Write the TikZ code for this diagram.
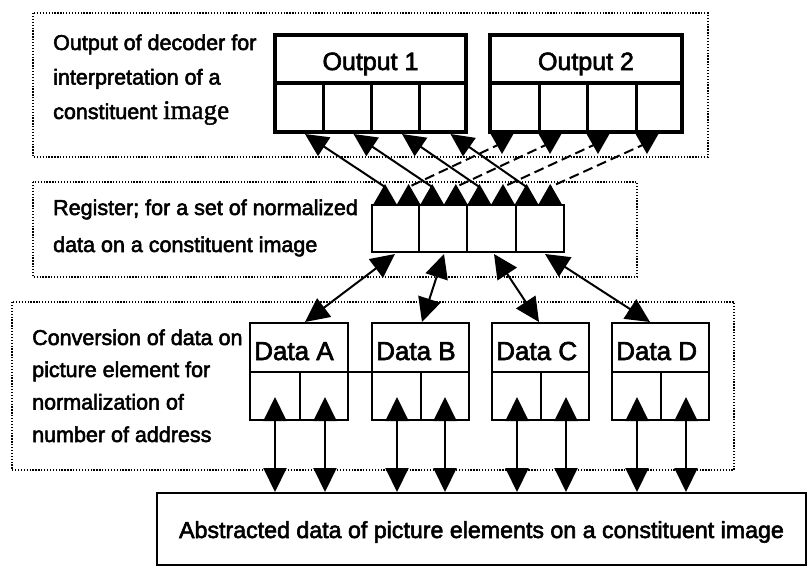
\documentclass[tikz,border=0pt]{standalone}
\usepackage{fontspec}
\setmainfont{Liberation Sans}
\newfontfamily\lblfont{Liberation Sans}[FakeBold=2.5]
\newfontfamily\serifimg{Liberation Serif}[FakeBold=1.5]
\usetikzlibrary{arrows.meta}
\tikzset{
  dotbox/.style={line width=1.3pt, dash pattern=on 1.3pt off 1.6pt},
  obox/.style={line width=3.5pt},
  ocell/.style={line width=3pt},
  rbox/.style={line width=2.2pt},
  dbox/.style={line width=2pt},
  conn/.style={line width=2pt, {Triangle[length=24pt,width=23pt]}-{Triangle[length=24pt,width=23pt]}},
  halfconn/.style={line width=2pt, -{Triangle[length=23pt,width=22pt]}},
  dashconn/.style={line width=2pt, dash pattern=on 10pt off 5pt},
  lbl/.style={anchor=base west, inner sep=0pt, font=\lblfont\fontsize{21.5}{26}\selectfont},
  hdr/.style={anchor=base, inner sep=0pt, font=\lblfont\fontsize{25}{30}\selectfont},
  dlbl/.style={anchor=base west, inner sep=0pt, font=\lblfont\fontsize{26}{30}\selectfont},
  ablbl/.style={anchor=base, inner sep=0pt, font=\lblfont\fontsize{23.2}{28}\selectfont},
}
\begin{document}
\begin{tikzpicture}[x=1pt,y=-1pt]
\useasboundingbox (0,0) rectangle (808,568);

% dotted group frames
\draw[dotbox] (33,13) rectangle (708,157);
\draw[dotbox] (33,182) rectangle (637,277);
\draw[dotbox] (12,302) rectangle (734,470);

% group labels
\node[lbl] (t1) at (53,50) {Output of decoder for};
\node[lbl] (t2) at (53,84.5) {interpretation of a};
\node[lbl] (t3) at (53,119) {constituent {\serifimg\fontsize{27}{30}\selectfont image}};
\node[lbl] (r1) at (53,215) {Register; for a set of normalized};
\node[lbl] (r2) at (53,252) {data on a constituent image};
\node[lbl] (c1) at (32,345) {Conversion of data on};
\node[lbl] (c2) at (32,377) {picture element for};
\node[lbl] (c3) at (32,409.5) {normalization of};
\node[lbl] (c4) at (32,442) {number of address};

% Output 1
\draw[obox] (275,35) rectangle (466,132);
\draw[obox] (275,83) -- (466,83);
\foreach \x in {323,371,419} \draw[ocell] (\x,83) -- (\x,132);
\node[hdr] (h1) at (370.5,70) {Output 1};

% Output 2
\draw[obox] (490,35) rectangle (682,132);
\draw[obox] (490,83) -- (682,83);
\foreach \x in {539,587,636} \draw[ocell] (\x,83) -- (\x,132);
\node[hdr] (h2) at (586,70) {Output 2};

% Register
\draw[rbox] (372,205) rectangle (564,252);
\foreach \x in {419,467,516} \draw[rbox] (\x,205) -- (\x,252);

% Output 1 arrow ends
\coordinate (o1a) at (305,134);
\coordinate (o1b) at (353.5,134);
\coordinate (o1c) at (402,134);
\coordinate (o1d) at (450.5,134);

% Output 2 triangles
\foreach \x [count=\i] in {502,550,598,647} {
  \fill (\x-12,133) -- (\x+12,133) -- (\x,154) -- cycle;
  \coordinate (o2\i) at (\x,143);
}

% Register top triangles
\foreach \x [count=\i] in {385,408.6,432.2,455.8,479.4,503,526.6,550.2} {
  \fill (\x-11.5,204) -- (\x+11.5,204) -- (\x,184) -- cycle;
  \coordinate (rt\i) at (\x,187);
}

% crossing connectors
\draw[halfconn] (rt1) -- (o1a);
\draw[halfconn] (rt3) -- (o1b);
\draw[halfconn] (rt5) -- (o1c);
\draw[halfconn] (rt7) -- (o1d);
\draw[dashconn] (o21) -- (rt2);
\draw[dashconn] (o22) -- (rt4);
\draw[dashconn] (o23) -- (rt6);
\draw[dashconn] (o24) -- (rt8);

% Data boxes
\foreach \l/\r/\m/\n in {250/348/300/A,372/469/421/B,492/589/541/C,612/709/661/D} {
  \draw[dbox] (\l,323) rectangle (\r,420);
  \draw[dbox] (\l,372) -- (\r,372);
  \draw[dbox] (\m,372) -- (\m,420);
  \node[dlbl] (data\n) at (\l+4,360) {Data \n};
}
\draw[dbox] (348,372) -- (372,372);

% register to data connectors
\coordinate (rbA) at (395,254);
\coordinate (rbB) at (444,254);
\coordinate (rbC) at (494,254);
\coordinate (rbD) at (545,254);
\coordinate (dtA) at (305,322);
\coordinate (dtB) at (422,322);
\coordinate (dtC) at (539,322);
\coordinate (dtD) at (650,322);
\draw[conn] (rbA) -- (dtA);
\draw[conn] (rbB) -- (dtB);
\draw[conn] (rbC) -- (dtC);
\draw[conn] (rbD) -- (dtD);

% Abstracted data box
\draw[dbox] (157,493) rectangle (806,565);
\node[ablbl] (abs) at (481.5,538) {Abstracted data of picture elements on a constituent image};

% vertical connectors
\foreach \x [count=\i] in {275,325,397,445,517,566,637,686} {
  \coordinate (cu\i) at (\x,397);
  \coordinate (cd\i) at (\x,492);
  \draw[conn] (cu\i) -- (cd\i);
}
\end{tikzpicture}
\end{document}
